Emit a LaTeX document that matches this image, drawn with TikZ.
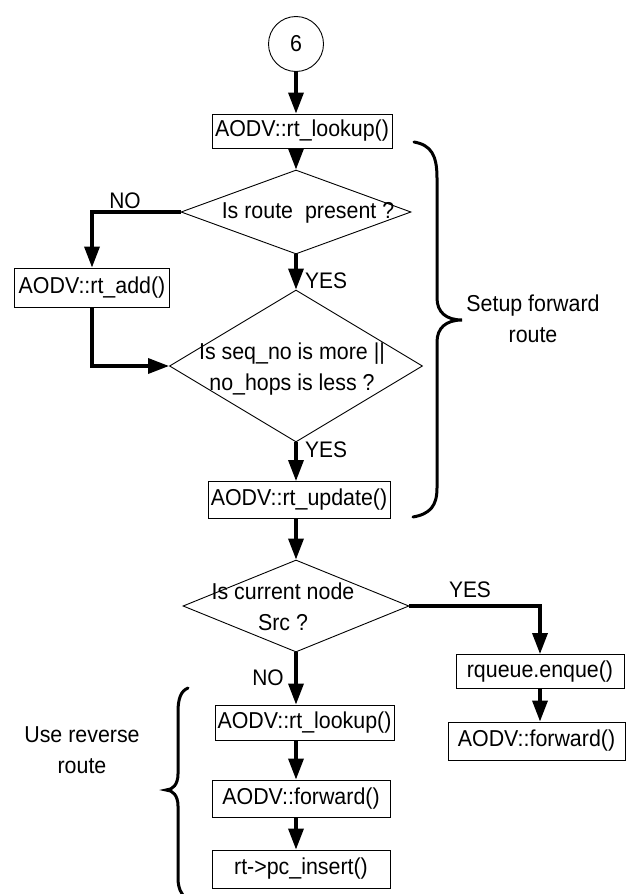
\documentclass[tikz,border=0pt]{standalone}
\usepackage{fontspec}
\setmainfont{Liberation Sans}[FakeStretch=0.93]
\usetikzlibrary{arrows.meta,shapes.geometric,calc}
\begin{document}
\begin{tikzpicture}[x=1pt,y=-1pt,
  box/.style={draw,line width=0.9pt,inner sep=0pt,font=\fontsize{23}{28}\selectfont},
  dia/.style={draw,diamond,line width=0.9pt,inner sep=0pt},
  txt/.style={font=\fontsize{23}{31}\selectfont,inner sep=0pt,align=center},
  lbl/.style={font=\fontsize{22.5}{28}\selectfont,inner sep=0pt},
  arr/.style={line width=3.4pt,-{Triangle[length=21pt,width=15pt]}},
  brace/.style={line width=3pt,line cap=round}]
\path[use as bounding box,clip] (0,0) rectangle (629,894);

% top part
\node[draw,circle,line width=0.9pt,minimum size=55,inner sep=0pt,font=\fontsize{23}{28}\selectfont] (c6) at (296,44) {6};
\node[box,minimum width=180,minimum height=34] (b1) at (302,131) {AODV::rt\_lookup()};
\node[dia,minimum width=230,minimum height=84] (d1) at (296,212) {};
\node[txt] (t1) at (308,213) {Is route\ \ present ?};
\node[box,minimum width=155,minimum height=39] (add) at (92,287.5) {AODV::rt\_add()};
\node[dia,minimum width=253,minimum height=152] (d2) at (296,366) {};
\node[txt] (t2) at (292,369) {Is seq\_no is more ||\\no\_hops is less ?};
\node[box,minimum width=182,minimum height=37] (upd) at (299,500) {AODV::rt\_update()};

\node[lbl] (no1) at (125,201) {NO};
\node[lbl,anchor=west] (yes1) at (305,281) {YES};
\node[lbl,anchor=west] (yes2) at (305,450) {YES};

\draw[arr] (c6) -- (b1.north -| c6);
\draw[arr] (b1.south -| c6) -- (d1.north);
\draw[arr] (d1.west) -| (add.north);
\draw[arr] (add.south) |- (d2.west);
\draw[arr] (d1.south) -- (d2.north);
\draw[arr] (d2.south) -- (upd.north -| d2.south);

% right brace
\draw[brace] (414,142) .. controls (431,145) and (437,155) .. (437,178) -- (437,298)
  .. controls (437,312) and (446,320) .. (462,320)
  .. controls (446,320) and (437,328) .. (437,342) -- (437,488)
  .. controls (437,506) and (430,514) .. (413,517);
\node[txt] (setup) at (533,319) {Setup forward\\route};

% decision 3
\node[dia,minimum width=226,minimum height=92] (d3) at (296,606) {};
\node[txt] (t3) at (283,607) {Is current node\\Src ?};
\draw[arr] (upd.south -| d3.north) -- (d3.north);

\node[box,minimum width=168,minimum height=34] (rq) at (540,671.5) {rqueue.enque()};
\node[box,minimum width=177,minimum height=38] (fwr) at (536.5,741) {AODV::forward()};
\node[lbl] (yes3) at (470,590) {YES};
\draw[arr] (d3.east) -| (rq.north);
\draw[arr] (rq.south) -- (fwr.north -| rq.south);

\node[box,minimum width=179,minimum height=35] (lk2) at (304.5,722.5) {AODV::rt\_lookup()};
\node[box,minimum width=178,minimum height=37] (fw2) at (301,798.5) {AODV::forward()};
\node[box,minimum width=178,minimum height=38] (pc) at (301,869) {rt->pc\_insert()};
\node[lbl] (no2) at (268,678) {NO};
\draw[arr] (d3.south) -- (lk2.north -| d3.south);
\draw[arr] (lk2.south -| d3.south) -- (fw2.north -| d3.south);
\draw[arr] (fw2.south -| d3.south) -- (pc.north -| d3.south);

% left brace
\draw[brace] (188,688) .. controls (181,691) and (178,698) .. (178,712) -- (178,774)
  .. controls (178,784) and (173,790) .. (166,790)
  .. controls (173,790) and (178,796) .. (178,806) -- (178,878)
  .. controls (178,888) and (181,894) .. (187,900);
\node[txt] (use) at (82,750) {Use reverse\\route};
\end{tikzpicture}
\end{document}
